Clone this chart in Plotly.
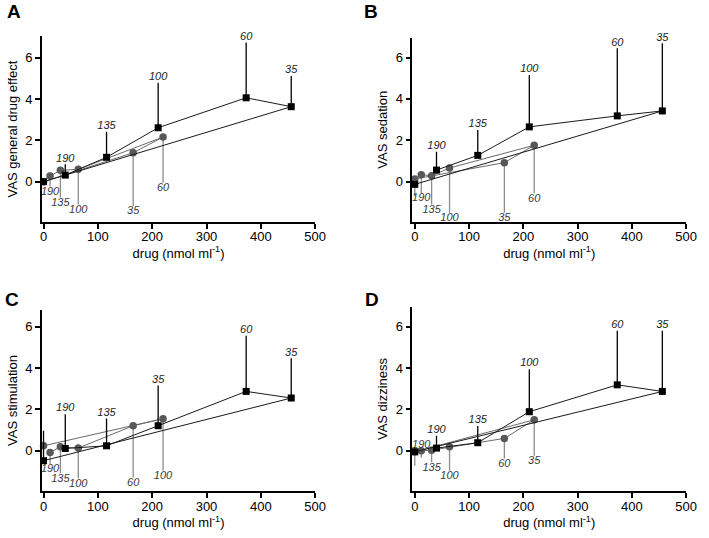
import plotly.graph_objects as go

# ---------------- data ----------------
# drug concentration (nmol/ml) in time order: 0, 35, 60, 100, 135, 190 min
sq_conc = [0, 456, 373, 211, 116, 40]
ci_conc_AB = [0, 165, 220, 64, 31, 12]
ci_conc_CD = [0, 220, 165, 64, 31, 12]

sq_labels = ["", "35", "60", "100", "135", "190"]
sq_labels_C = ["", "35", "60", "35", "135", "190"]
ci_labels_AB = ["", "35", "60", "100", "135", "190"]
ci_labels_C = ["", "100", "60", "100", "135", "190"]
ci_labels_D = ["", "35", "60", "100", "135", "190"]

# Panel A: VAS general drug effect
sq_A = [0.0, 3.63, 4.06, 2.61, 1.18, 0.32]
sq_err_A = [0.0, 1.48, 2.67, 2.18, 1.24, 0.52]
ci_A = [0.0, 1.40, 2.16, 0.60, 0.55, 0.27]
ci_err_A = [0.0, 2.58, 2.21, 1.70, 1.32, 0.50]

# Panel B: VAS sedation
sq_B = [-0.13, 3.42, 3.18, 2.65, 1.27, 0.56]
sq_err_B = [0.0, 3.27, 3.27, 2.51, 1.23, 0.89]
ci_B = [0.13, 0.92, 1.76, 0.66, 0.28, 0.34]
ci_err_B = [0.82, 2.42, 2.32, 2.16, 1.38, 0.89]

# Panel C: VAS stimulation
sq_C = [-0.48, 2.55, 2.87, 1.21, 0.24, 0.11]
sq_err_C = [1.45, 1.92, 2.69, 1.94, 1.32, 1.66]
ci_C = [0.24, 1.55, 1.21, 0.13, 0.19, -0.08]
ci_err_C = [0.0, 2.50, 2.51, 1.46, 1.28, 0.56]

# Panel D: VAS dizziness
sq_D = [-0.05, 2.87, 3.19, 1.89, 0.39, 0.13]
sq_err_D = [0.0, 2.94, 2.62, 2.06, 0.81, 0.60]
ci_D = [-0.05, 1.50, 0.60, 0.19, 0.03, 0.0]
ci_err_D = [0.68, 1.74, 0.97, 1.16, 0.59, 0.32]

y_titles = ["VAS general drug effect", "VAS sedation", "VAS stimulation", "VAS dizziness"]
x_title = "drug (nmol ml<sup>-1</sup>)"
panel_letters = ["A", "B", "C", "D"]
x_ticks = [0, 100, 200, 300, 400, 500]
y_ticks = [0, 2, 4, 6]

panels = [
    dict(sq=sq_A, sqe=sq_err_A, ci=ci_A, cie=ci_err_A, cx=ci_conc_AB, sl=sq_labels, cl=ci_labels_AB),
    dict(sq=sq_B, sqe=sq_err_B, ci=ci_B, cie=ci_err_B, cx=ci_conc_AB, sl=sq_labels, cl=ci_labels_AB),
    dict(sq=sq_C, sqe=sq_err_C, ci=ci_C, cie=ci_err_C, cx=ci_conc_CD, sl=sq_labels_C, cl=ci_labels_C),
    dict(sq=sq_D, sqe=sq_err_D, ci=ci_D, cie=ci_err_D, cx=ci_conc_CD, sl=sq_labels, cl=ci_labels_D),
]

# ---------------- layout geometry (styles) ----------------
W, H = 709, 538
geo = [
    dict(x0=40.7, x1=319.0, y0=36.0, y1=222.0, xr=[-2.9, 500], yr=[-1.95, 7.05]),
    dict(x0=418.0, x1=697.0, y0=37.5, y1=222.0, xr=[-4.5, 500], yr=[-1.95, 6.97]),
    dict(x0=40.7, x1=319.0, y0=309.7, y1=491.3, xr=[-2.9, 500], yr=[-1.96, 6.82]),
    dict(x0=418.0, x1=697.0, y0=306.7, y1=491.3, xr=[-4.5, 500], yr=[-1.96, 6.97]),
]
label_above = {(3, 5)}  # panel D, 190-min grey label sits above

FONT = "Arial, Liberation Sans, sans-serif"
BLACK = "#000000"
GREY = "#585858"
GREY_LINE = "#6a6a6a"
GREY_BAR = "#8c8c8c"

fig = go.Figure()
layout = dict(width=W, height=H, margin=dict(l=0, r=0, t=0, b=0),
              paper_bgcolor="white", plot_bgcolor="white", showlegend=False,
              font=dict(family=FONT, color="black"))
annotations = []

for i, (p, g) in enumerate(zip(panels, geo)):
    n = "" if i == 0 else str(i + 1)
    xa, ya = "x" + n, "y" + n
    # grey circles
    fig.add_trace(go.Scatter(
        x=p["cx"], y=p["ci"], xaxis=xa, yaxis=ya, mode="lines+markers",
        line=dict(color=GREY_LINE, width=1),
        marker=dict(symbol="circle", size=7.5, color=GREY),
        error_y=dict(type="data", symmetric=False, array=[0] * len(p["ci"]),
                     arrayminus=p["cie"], width=0, thickness=1.3, color=GREY_BAR),
        cliponaxis=False))
    # black squares
    fig.add_trace(go.Scatter(
        x=sq_conc, y=p["sq"], xaxis=xa, yaxis=ya, mode="lines+markers",
        line=dict(color="#1a1a1a", width=1),
        marker=dict(symbol="square", size=7, color=BLACK),
        error_y=dict(type="data", symmetric=False, array=p["sqe"],
                     arrayminus=[0] * len(p["sq"]), width=0, thickness=1.3, color=BLACK),
        cliponaxis=False))
    # grey labels (skip points without a label)
    tx, ty, tt, tp = [], [], [], []
    for k, (c, v, e, lab) in enumerate(zip(p["cx"], p["ci"], p["cie"], p["cl"])):
        if not lab:
            continue
        tx.append(c)
        tt.append(lab)
        if (i, k) in label_above:
            ty.append(v)
            tp.append("top center")
        else:
            ty.append(v - e)
            tp.append("bottom center")
    fig.add_trace(go.Scatter(
        x=tx, y=ty, xaxis=xa, yaxis=ya, mode="text", text=tt,
        textposition=tp, cliponaxis=False,
        textfont=dict(family=FONT, size=11, color="#3a3a3a", style="italic")))
    # black labels
    bx, by, bt = [], [], []
    for c, v, e, lab in zip(sq_conc, p["sq"], p["sqe"], p["sl"]):
        if not lab:
            continue
        bx.append(c)
        by.append(v + e)
        bt.append(lab)
    fig.add_trace(go.Scatter(
        x=bx, y=by, xaxis=xa, yaxis=ya,
        mode="text", text=bt, textposition="top center", cliponaxis=False,
        textfont=dict(family=FONT, size=11, color="#222222", style="italic")))

    axis_common = dict(showline=True, linecolor="black", linewidth=1.5, ticks="outside",
                       ticklen=5, tickwidth=1.5, tickcolor="black", showgrid=False,
                       zeroline=False, tickfont=dict(family=FONT, size=13, color="black"))
    layout["xaxis" + n] = dict(axis_common, domain=[g["x0"] / W, g["x1"] / W], range=g["xr"],
                               tickvals=x_ticks, anchor=ya, ticklabelstandoff=-3,
                               title=dict(text=x_title, standoff=4,
                                          font=dict(family=FONT, size=13, color="black")))
    layout["yaxis" + n] = dict(axis_common, domain=[1 - g["y1"] / H, 1 - g["y0"] / H],
                               range=g["yr"], tickvals=y_ticks, anchor=xa,
                               title=dict(text=y_titles[i], standoff=5,
                                          font=dict(family=FONT, size=13, color="black")))

# panel letters
letter_pos = [(12, 11), (376, 11), (10, 299), (377, 299)]
for i in range(4):
    lx, ly = letter_pos[i]
    annotations.append(dict(text="<b>" + panel_letters[i] + "</b>", x=lx / W, y=1 - ly / H,
                            xref="paper", yref="paper", xanchor="center", yanchor="middle",
                            showarrow=False, font=dict(family=FONT, size=19, color="black")))
layout["annotations"] = annotations
fig.update_layout(**layout)
fig.write_html("out.html", config={"displayModeBar": False},
               post_script="document.body.style.margin='0';document.body.style.overflow='hidden';")
